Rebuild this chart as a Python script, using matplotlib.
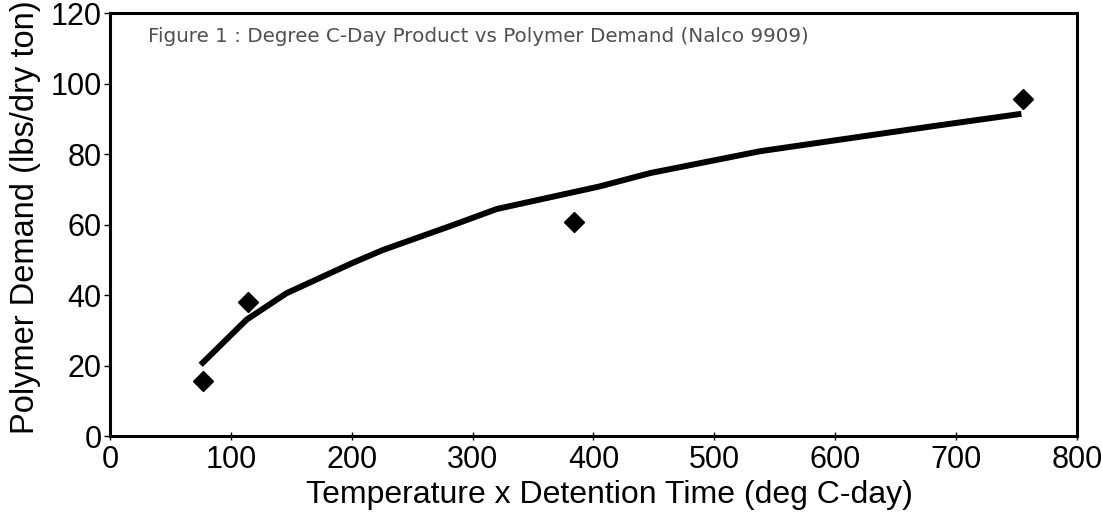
"""
Degree C-day product vs polymer demand (Nalco 9909).
Markers = observed points, line = fitted trend read off the figure.
"""
import matplotlib
matplotlib.use("Agg")
import matplotlib.pyplot as plt

# observed data
temp_x_time = [77, 114, 384, 755]
polymer_demand = [15.7, 37.9, 60.8, 95.6]

# trend line
trend_x = [75, 113, 146, 200, 226, 281, 320, 405, 447, 538, 681, 754]
trend_y = [20.2, 33.0, 40.5, 49.0, 52.8, 59.5, 64.4, 70.8, 74.6, 80.8, 87.9, 91.4]

x_ticks = [0, 100, 200, 300, 400, 500, 600, 700, 800]
y_ticks = [0, 20, 40, 60, 80, 100, 120]

plt.rcParams["font.family"] = ["Liberation Sans", "DejaVu Sans"]

fig = plt.figure(figsize=(11.02, 5.12), dpi=100)
ax = fig.add_axes([0.0998, 0.1484, 0.8775, 0.8262])

ax.plot(trend_x, trend_y, color="black", lw=4.3, solid_capstyle="butt", zorder=2)
ax.plot(temp_x_time, polymer_demand, "D", color="black", ms=10, zorder=3)

ax.set_xlim(0, 800)
ax.set_ylim(0, 120)
ax.set_xticks(x_ticks)
ax.set_yticks(y_ticks)
ax.tick_params(axis="both", labelsize=22, width=1.0, color="black")
ax.tick_params(axis="x", direction="inout", length=6, pad=3.5)
ax.tick_params(axis="y", direction="out", length=4, pad=2)
for sp in ax.spines.values():
    sp.set_linewidth(2.2)

ax.set_xlabel("Temperature x Detention Time (deg C-day)", fontsize=23)
ax.set_ylabel("Polymer Demand (lbs/dry ton)", fontsize=23.5)
ax.xaxis.set_label_coords(0.516, -0.105)
ax.yaxis.set_label_coords(-0.071, 0.518)

ax.text(0.039, 0.9314, "Figure 1 : Degree C-Day Product vs Polymer Demand (Nalco 9909)",
        transform=ax.transAxes, fontsize=14.3, color="#505050",
        family=["DejaVu Sans"], va="baseline", ha="left")

fig.savefig("out.png", dpi=100)
plt.close(fig)
